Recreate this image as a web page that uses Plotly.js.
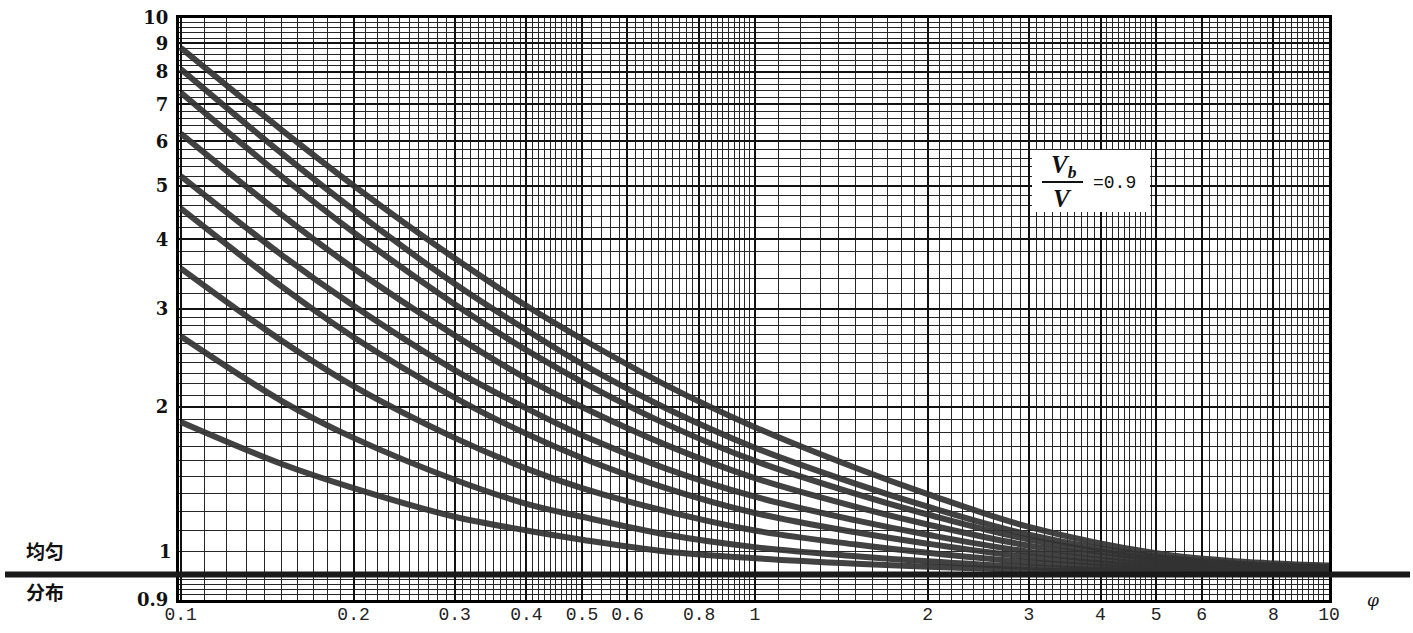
<!DOCTYPE html>
<html>
<head>
<meta charset="utf-8">
<script src="https://cdn.plot.ly/plotly-3.0.1.min.js"></script>
<style>html,body{margin:0;padding:0;background:#fff;}#chart{width:1413px;height:633px;}</style>
</head>
<body>
<div id="chart"></div>
<script>
// φ values (x) where the curves were read
const phi = [0.1, 0.15, 0.2, 0.3, 0.4, 0.5, 0.7, 1, 1.5, 2, 3, 5, 7, 10];
// curves, top to bottom
const curve1 = [8.84, 6.29, 5.0, 3.7, 3.04, 2.65, 2.19, 1.84, 1.554, 1.395, 1.218, 1.092, 1.055, 1.038];
const curve2 = [8.1, 5.71, 4.52, 3.33, 2.75, 2.39, 1.99, 1.69, 1.455, 1.324, 1.179, 1.076, 1.045, 1.031];
const curve3 = [7.35, 5.19, 4.12, 3.06, 2.53, 2.22, 1.865, 1.6, 1.396, 1.282, 1.156, 1.066, 1.039, 1.027];
const curve4 = [6.2, 4.43, 3.55, 2.69, 2.25, 2.0, 1.71, 1.49, 1.323, 1.23, 1.127, 1.054, 1.032, 1.022];
const curve5 = [5.2, 3.75, 3.04, 2.33, 1.99, 1.78, 1.55, 1.38, 1.251, 1.179, 1.099, 1.042, 1.025, 1.017];
const curve6 = [4.55, 3.29, 2.67, 2.08, 1.79, 1.62, 1.43, 1.29, 1.191, 1.136, 1.075, 1.032, 1.019, 1.013];
const curve7 = [3.55, 2.63, 2.18, 1.76, 1.55, 1.43, 1.3, 1.2, 1.132, 1.094, 1.052, 1.022, 1.013, 1.009];
const curve8 = [2.68, 2.05, 1.76, 1.48, 1.34, 1.27, 1.18, 1.12, 1.079, 1.056, 1.031, 1.013, 1.008, 1.005];
const curve9 = [1.88, 1.58, 1.43, 1.27, 1.2, 1.155, 1.1, 1.07, 1.046, 1.033, 1.018, 1.008, 1.005, 1.003];
const curves = [curve1, curve2, curve3, curve4, curve5, curve6, curve7, curve8, curve9];

// axis labels
const xTickVals = [0.1, 0.2, 0.3, 0.4, 0.5, 0.6, 0.8, 1, 2, 3, 4, 5, 6, 8, 10];
const xTickText = ['0.1', '0.2', '0.3', '0.4', '0.5', '0.6', '0.8', '1', '2', '3', '4', '5', '6', '8', '10'];
const yTickVals = [0.9, 2, 3, 4, 5, 6, 7, 8, 9, 10];
const yTickText = ['0.9', '2', '3', '4', '5', '6', '7', '8', '9', '10'];
const uniformValue = 1;
const ratioLabel = '=0.9';

// fine grid of the log paper
function steps(a, b, s) { const out = []; for (let v = a; v < b - 1e-9; v += s) out.push(+v.toFixed(4)); return out; }
const xMinor = [].concat(steps(0.1, 0.5, 0.01), steps(0.5, 1, 0.02), steps(1, 5, 0.1), steps(5, 10.01, 0.2));
const yMinor = [].concat(steps(0.9, 1, 0.02), steps(1, 3, 0.1), steps(3, 10.01, 0.2));

const traces = curves.map(c => ({
  x: phi, y: c, type: 'scatter', mode: 'lines',
  line: {color: 'rgba(50,50,50,0.92)', width: 6, shape: 'spline', smoothing: 1},
  hoverinfo: 'skip', showlegend: false
}));

const W = 1150, H = 582;
function px(p) { return (p - 179) / W; }
function py(p) { return (600 - p) / H; }
function note(x, y, text, font) {
  return {xref: 'paper', yref: 'paper', x: px(x), y: py(y), text: text, showarrow: false,
          xanchor: 'center', yanchor: 'middle', font: font};
}

const layout = {
  width: 1413, height: 633,
  margin: {l: 179, r: 84, t: 18, b: 33},
  paper_bgcolor: '#fff', plot_bgcolor: '#fff',
  showlegend: false,
  xaxis: {
    type: 'log', range: [-1.003, 1],
    tickmode: 'array', tickvals: xTickVals, ticktext: xTickText,
    ticks: '', ticklabelstandoff: -5,
    tickfont: {family: 'Liberation Mono, monospace', size: 18, color: '#222'},
    showgrid: true, gridcolor: '#111', gridwidth: 2,
    minor: {tickmode: 'array', tickvals: xMinor, showgrid: true, gridcolor: '#262626', gridwidth: 1, ticks: ''},
    showline: true, linecolor: '#000', linewidth: 3, mirror: true, zeroline: false
  },
  yaxis: {
    type: 'log', range: [Math.log10(0.9), 1],
    tickmode: 'array', tickvals: yTickVals, ticktext: yTickText,
    ticks: '', ticklabelstandoff: 4,
    tickfont: {family: 'DejaVu Serif, serif', size: 18, color: '#111', weight: 'bold'},
    showgrid: true, gridcolor: '#111', gridwidth: 2,
    minor: {tickmode: 'array', tickvals: yMinor, showgrid: true, gridcolor: '#262626', gridwidth: 1, ticks: ''},
    showline: true, linecolor: '#000', linewidth: 3, mirror: true, zeroline: false
  },
  shapes: [
    // uniform distribution line
    {type: 'line', xref: 'paper', yref: 'y', x0: px(5), x1: px(1410), y0: uniformValue, y1: uniformValue,
     line: {color: '#1a1a1a', width: 6}},
    // white patch behind ratio label
    {type: 'rect', xref: 'paper', yref: 'paper', x0: px(1032), x1: px(1150), y0: py(212), y1: py(150),
     fillcolor: '#fff', line: {width: 0}},
    // fraction bar
    {type: 'line', xref: 'paper', yref: 'paper', x0: px(1042), x1: px(1083), y0: py(182), y1: py(182),
     line: {color: '#111', width: 2}}
  ],
  annotations: [
    {xref: 'paper', yref: 'y', x: 0, y: Math.log10(uniformValue), text: '1', showarrow: false,
     xanchor: 'right', yanchor: 'middle', xshift: -5, yshift: 23,
     font: {family: 'DejaVu Serif, serif', size: 18, color: '#111', weight: 'bold'}},
    note(45, 550, '均匀', {family: 'Noto Sans CJK SC', size: 19, color: '#111', weight: 'bold'}),
    note(45, 591, '分布', {family: 'Noto Sans CJK SC', size: 19, color: '#111', weight: 'bold'}),
    note(1373, 600, '<i>φ</i>', {family: 'DejaVu Serif, serif', size: 17, color: '#111'}),
    note(1064, 166, '<i>V<sub>b</sub></i>', {family: 'Liberation Serif, serif', size: 25, color: '#111', weight: 'bold'}),
    note(1062, 198, '<i>V</i>', {family: 'Liberation Serif, serif', size: 25, color: '#111', weight: 'bold'}),
    note(1114, 183, ratioLabel, {family: 'Liberation Mono, monospace', size: 18, color: '#111'})
  ]
};

Plotly.newPlot('chart', traces, layout, {staticPlot: true, displayModeBar: false});
</script>
</body>
</html>
